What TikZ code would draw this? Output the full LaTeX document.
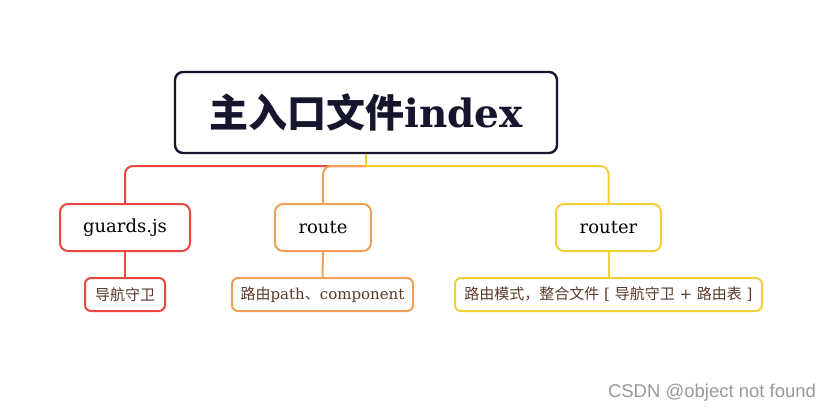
\documentclass[tikz,border=0pt]{standalone}
\usepackage{fontspec}
\setmainfont{DejaVu Serif}
\newfontfamily\cjk{Noto Sans CJK SC}
\newfontfamily\wm{Liberation Sans}
\definecolor{cred}{HTML}{E8483F}
\definecolor{corange}{HTML}{EFA055}
\definecolor{cyellow}{HTML}{F2D03A}
\definecolor{cnavy}{HTML}{15152E}
\definecolor{cleaf}{HTML}{5B3A29}
\begin{document}
\begin{tikzpicture}[x=1pt,y=-1pt,
  rootbox/.style={draw=cnavy,line width=2.4pt,rounded corners=8pt,fill=white,minimum width=382pt,minimum height=81pt,inner sep=0pt,text=cnavy},
  childbox/.style={line width=2pt,rounded corners=8pt,fill=white,minimum height=47pt,inner sep=0pt,text=black,font=\fontsize{18}{21}\selectfont},
  leafbox/.style={line width=2pt,rounded corners=6pt,fill=white,minimum height=33pt,inner sep=0pt,text=cleaf,font=\fontsize{15}{18}\selectfont},
  conn/.style={line width=2pt,rounded corners=8pt}]
\useasboundingbox (0,0) rectangle (834,415);
\coordinate (bus) at (366,166);
\node[rootbox] (root) at (366,112.5) {{\cjk\bfseries\fontsize{39}{44}\selectfont 主入口文件}{\bfseries\fontsize{39}{44}\selectfont index}};
\node[childbox,draw=cred,minimum width=130pt] (guards) at (125,227.5) {guards.js};
\node[childbox,draw=corange,minimum width=96pt] (route) at (323,227.5) {route};
\node[childbox,draw=cyellow,minimum width=105pt] (router) at (608.5,227.5) {router};
\node[leafbox,draw=cred,minimum width=80pt] (leafa) at (125,294.5) {\cjk 导航守卫};
\node[leafbox,draw=corange,minimum width=181pt] (leafb) at (322.5,294.5) {{\cjk 路由}path{\cjk 、}component};
\node[leafbox,draw=cyellow,minimum width=307pt] (leafc) at (608.5,294.5) {{\cjk 路由模式，整合文件}\ [\ {\cjk 导航守卫}\ +\ {\cjk 路由表}\ ]};
\draw[conn,cred] (bus) -| (guards.north);
\draw[conn,corange] (bus) -| (route.north);
\draw[conn,cyellow,sharp corners] (root.south) -- (bus);
\draw[conn,cyellow] (bus) -| (router.north);
\draw[conn,cred] (guards.south) -- (leafa.north);
\draw[conn,corange] (route.south) -- (leafb.north);
\draw[conn,cyellow] (router.south) -- (leafc.north);
\node[text=gray!80,font=\wm\fontsize{18.5}{22}\selectfont] (mark) at (712,393) {CSDN @object not found};
\end{tikzpicture}
\end{document}
